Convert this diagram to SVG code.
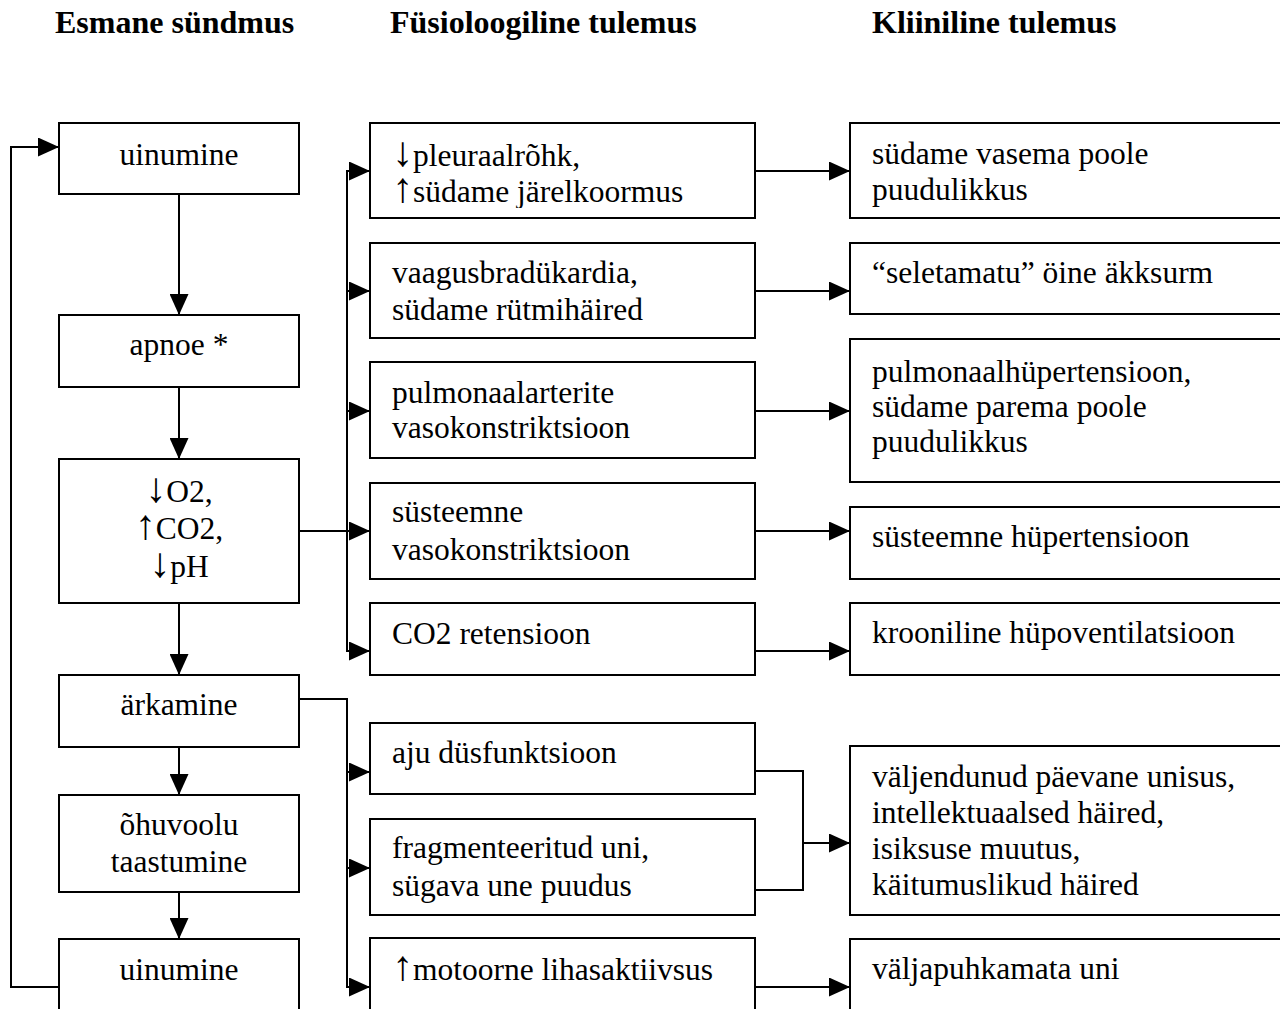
<svg xmlns="http://www.w3.org/2000/svg" width="1280" height="1009" viewBox="0 0 1280 1009">
<style>
.box{fill:#fff;stroke:#000;stroke-width:2}
.t{font-family:"Liberation Serif","Times New Roman",serif;font-size:31.5px;fill:#000}
.c{text-anchor:middle}
.a{font-size:42px}
.h{font-family:"Liberation Serif","Times New Roman",serif;font-size:32px;font-weight:bold;fill:#000}
.ln{fill:none;stroke:#000;stroke-width:2}
</style>
<defs>
<marker id="ah" markerUnits="userSpaceOnUse" markerWidth="21" markerHeight="19" refX="21" refY="9.5" orient="auto">
<path d="M0,0 L21,9.5 L0,19 z" fill="#000"/>
</marker>
<clipPath id="clip1"><rect x="370" y="123" width="385" height="85"/></clipPath>
</defs>
<rect width="1280" height="1009" fill="#fff"/>
<g id="titles">
<text class="h" x="55" y="33">Esmane sündmus</text>
<text class="h" x="390" y="33">Füsioloogiline tulemus</text>
<text class="h" x="872" y="33">Kliiniline tulemus</text>
</g>
<g id="connectors">
<path class="ln" d="M179,194 V315" marker-end="url(#ah)"/>
<path class="ln" d="M179,387 V459" marker-end="url(#ah)"/>
<path class="ln" d="M179,603 V675" marker-end="url(#ah)"/>
<path class="ln" d="M179,747 V795" marker-end="url(#ah)"/>
<path class="ln" d="M179,892 V939" marker-end="url(#ah)"/>
<path class="ln" d="M59,987 H11 V147 H59" marker-end="url(#ah)"/>
<path class="ln" d="M299,531 H370" marker-end="url(#ah)"/>
<path class="ln" d="M347,171 V651"/>
<path class="ln" d="M346,171 H370" marker-end="url(#ah)"/>
<path class="ln" d="M346,291 H370" marker-end="url(#ah)"/>
<path class="ln" d="M346,411 H370" marker-end="url(#ah)"/>
<path class="ln" d="M346,651 H370" marker-end="url(#ah)"/>
<path class="ln" d="M299,699 H347 V987"/>
<path class="ln" d="M346,772 H370" marker-end="url(#ah)"/>
<path class="ln" d="M346,868 H370" marker-end="url(#ah)"/>
<path class="ln" d="M346,987 H370" marker-end="url(#ah)"/>
<path class="ln" d="M755,171 H850" marker-end="url(#ah)"/>
<path class="ln" d="M755,291 H850" marker-end="url(#ah)"/>
<path class="ln" d="M755,411 H850" marker-end="url(#ah)"/>
<path class="ln" d="M755,531 H850" marker-end="url(#ah)"/>
<path class="ln" d="M755,651 H850" marker-end="url(#ah)"/>
<path class="ln" d="M755,771 H803 V890 H755"/>
<path class="ln" d="M803,843 H850" marker-end="url(#ah)"/>
<path class="ln" d="M755,987 H850" marker-end="url(#ah)"/>
</g>
<g id="n-uinumine1"><rect class="box" x="59" y="123" width="240" height="71"/><text class="t c" x="179" y="165">uinumine</text></g>
<g id="n-apnoe"><rect class="box" x="59" y="315" width="240" height="72"/><text class="t c" x="179" y="355">apnoe *</text></g>
<g id="n-gases"><rect class="box" x="59" y="459" width="240" height="144"/><text class="t c" x="179" y="502"><tspan class="a">↓</tspan>O2,</text><text class="t c" x="179" y="539"><tspan class="a">↑</tspan>CO2,</text><text class="t c" x="179" y="577"><tspan class="a">↓</tspan>pH</text></g>
<g id="n-arkamine"><rect class="box" x="59" y="675" width="240" height="72"/><text class="t c" x="179" y="715">ärkamine</text></g>
<g id="n-ohuvool"><rect class="box" x="59" y="795" width="240" height="97"/><text class="t c" x="179" y="835">õhuvoolu</text><text class="t c" x="179" y="872">taastumine</text></g>
<g id="n-uinumine2"><rect class="box" x="59" y="939" width="240" height="90"/><text class="t c" x="179" y="980">uinumine</text></g>

<g id="m-pleura"><rect class="box" x="370" y="123" width="385" height="95"/><g clip-path="url(#clip1)"><text class="t" x="392" y="166"><tspan class="a">↓</tspan>pleuraalrõhk,</text><text class="t" x="392" y="202"><tspan class="a">↑</tspan>südame järelkoormus</text></g></g>
<g id="m-vaagus"><rect class="box" x="370" y="243" width="385" height="95"/><text class="t" x="392" y="283">vaagusbradükardia,</text><text class="t" x="392" y="320">südame rütmihäired</text></g>
<g id="m-pulm"><rect class="box" x="370" y="362" width="385" height="96"/><text class="t" x="392" y="403">pulmonaalarterite</text><text class="t" x="392" y="438">vasokonstriktsioon</text></g>
<g id="m-syst"><rect class="box" x="370" y="483" width="385" height="96"/><text class="t" x="392" y="522">süsteemne</text><text class="t" x="392" y="560">vasokonstriktsioon</text></g>
<g id="m-co2"><rect class="box" x="370" y="603" width="385" height="72"/><text class="t" x="392" y="644">CO2 retensioon</text></g>
<g id="m-aju"><rect class="box" x="370" y="723" width="385" height="71"/><text class="t" x="392" y="763">aju düsfunktsioon</text></g>
<g id="m-frag"><rect class="box" x="370" y="819" width="385" height="96"/><text class="t" x="392" y="858">fragmenteeritud uni,</text><text class="t" x="392" y="896">sügava une puudus</text></g>
<g id="m-motor"><rect class="box" x="370" y="938" width="385" height="90"/><text class="t" x="392" y="980"><tspan class="a">↑</tspan>motoorne lihasaktiivsus</text></g>

<g id="r-vasak"><rect class="box" x="850" y="123" width="440" height="95"/><text class="t" x="872" y="164">südame vasema poole</text><text class="t" x="872" y="200">puudulikkus</text></g>
<g id="r-akksurm"><rect class="box" x="850" y="243" width="440" height="71"/><text class="t" x="872" y="283">“seletamatu” öine äkksurm</text></g>
<g id="r-pulmhyp"><rect class="box" x="850" y="339" width="440" height="143"/><text class="t" x="872" y="382">pulmonaalhüpertensioon,</text><text class="t" x="872" y="417">südame parema poole</text><text class="t" x="872" y="452">puudulikkus</text></g>
<g id="r-systhyp"><rect class="box" x="850" y="507" width="440" height="72"/><text class="t" x="872" y="547">süsteemne hüpertensioon</text></g>
<g id="r-hypovent"><rect class="box" x="850" y="603" width="440" height="72"/><text class="t" x="872" y="643">krooniline hüpoventilatsioon</text></g>
<g id="r-unisus"><rect class="box" x="850" y="746" width="440" height="169"/><text class="t" x="872" y="787">väljendunud päevane unisus,</text><text class="t" x="872" y="823">intellektuaalsed häired,</text><text class="t" x="872" y="859">isiksuse muutus,</text><text class="t" x="872" y="895">käitumuslikud häired</text></g>
<g id="r-uni"><rect class="box" x="850" y="939" width="440" height="90"/><text class="t" x="872" y="979">väljapuhkamata uni</text></g>
</svg>
